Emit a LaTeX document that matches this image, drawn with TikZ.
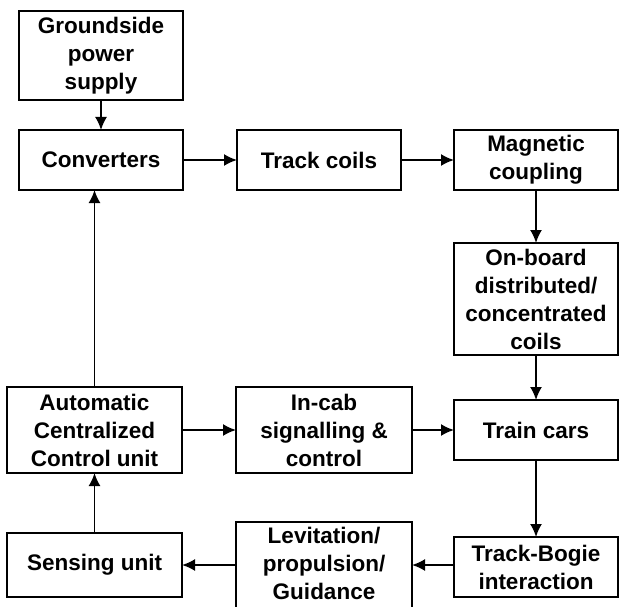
\documentclass[tikz,border=0pt]{standalone}
\usepackage{fontspec}
\setmainfont{Liberation Sans}
\usetikzlibrary{arrows.meta, positioning}

\begin{document}
\begin{tikzpicture}[
        x=1pt, y=1pt,
        node distance=54pt,
        blk/.style={rectangle, draw, line width=2.2pt, outer sep=0pt, align=center, inner sep=2pt,
            minimum width=164pt, minimum height=60pt,
            font=\fontsize{22.5}{28}\selectfont\bfseries},
        bigblk/.style={blk, minimum width=176pt, minimum height=86pt},
        arr/.style={-{Latex[length=13pt, width=12pt]}, line width=1.8pt}
    ]
    \useasboundingbox (0,0) rectangle (620,606);
    \clip (0,0) rectangle (620,606);

    % Top row
    \node[blk, minimum height=89pt] (ground) at (101,550.5) {Groundside\\power\\supply};
    \node[blk, below=30pt of ground] (conv) {Converters};
    \node[blk, right=54pt of conv] (coils) {Track coils};
    \node[blk, right=53pt of coils] (coupling) {Magnetic\\coupling};

    % Right column
    \node[blk, below=53pt of coupling, minimum height=112pt] (onboard) {On-board\\distributed/\\concentrated\\coils};
    \node[blk, below=45pt of onboard] (train) {Train cars};
    \node[blk, below=77pt of train] (bogie) {Track-Bogie\\interaction};

    % Middle and left
    \node[bigblk, left=42pt of train] (incab) {In-cab\\signalling \&\\control};
    \node[bigblk, left=54pt of incab, minimum width=175pt] (acc) {Automatic\\Centralized\\Control unit};
    \node[blk, below=60pt of acc, minimum width=175pt, minimum height=64pt] (sensing) {Sensing unit};
    \node[bigblk, right=54pt of sensing, text depth=4pt] (levit) {Levitation/\\propulsion/\\Guidance};

    % Connections
    \draw[arr] (ground) -- (conv);
    \draw[arr] (conv) -- (coils);
    \draw[arr] (coils) -- (coupling);
    \draw[arr] (coupling) -- (onboard);
    \draw[arr] (onboard) -- (train);
    \draw[arr] (train) -- (bogie);
    \draw[arr] (bogie.west |- levit) -- (levit);
    \draw[arr] (levit) -- (sensing);
    \draw[arr] (sensing) -- (acc);
    \draw[arr] (acc) -- (incab);
    \draw[arr] (incab) -- (train);
    \draw[arr] (acc.north) -- (acc.north |- conv.south);

\end{tikzpicture}
\end{document}
